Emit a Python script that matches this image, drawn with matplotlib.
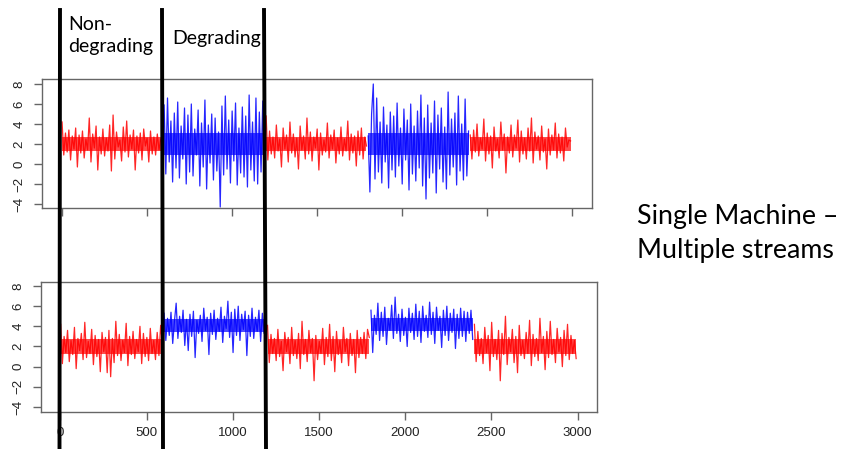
import numpy as np
import matplotlib
matplotlib.use("Agg")
import matplotlib.pyplot as plt
from matplotlib.lines import Line2D

# segment layout (sample index) and colours
seg_starts = [0, 600, 1200, 1800, 2400]
seg_len = 600
seg_colors = ["red", "blue", "red", "blue", "red"]

# top panel: degrading segments have larger spread
top_segments = [
    [4.2, 0.9, 3.1, 1.2, 3.4, 0.4, 2.8, 1.5, 3.6, -0.3, 2.9, 1.1, 3.3, 0.6, 2.5, 1.4, 4.6, 0.2, 3.0, 1.6,
     3.8, -0.6, 2.7, 1.0, 3.5, 0.8, 2.6, 1.3, 3.9, -0.7, 4.9, 0.5, 3.2, 1.7, 2.4, 0.3, 3.7, 1.2, 4.3, 0.7,
     2.9, 1.5, 3.4, -0.6, 2.8, 1.1, 3.1, 0.4, 3.5, 1.8, 2.6, 0.2, 3.3, 1.0, 2.7, 0.9, 3.0, 1.4, 2.5, 2.2],
    [5.9, -1.0, 6.6, 0.2, 4.3, -1.8, 5.1, -0.4, 6.2, -1.4, 3.8, 0.5, 5.6, -2.0, 4.9, -0.8, 6.0, -1.2, 3.5, 0.9,
     5.4, -2.2, 4.1, -0.3, 6.4, -2.5, 3.9, 0.1, 5.0, -1.6, 4.6, -0.7, 3.2, -4.3, 5.8, -1.1, 6.8, -0.5, 4.4, -1.9,
     5.3, 0.3, 6.1, -2.1, 3.6, -0.9, 5.7, -1.3, 4.8, -2.3, 6.9, -0.6, 4.2, -1.7, 6.6, -2.0, 5.2, -0.8, 6.3, -2.4],
    [4.8, 0.4, 3.3, 1.0, 2.7, 0.6, 3.9, 1.3, 2.5, -0.3, 3.6, 1.5, 2.9, 0.2, 4.2, 1.1, 3.0, 0.7, 2.6, -0.5,
     3.8, 1.4, 2.8, 0.5, 4.6, 1.0, 3.2, 0.3, 2.7, 1.6, 3.5, -0.6, 3.1, 0.9, 2.4, 1.2, 4.1, 0.6, 2.9, 1.5,
     3.4, 0.1, 2.6, 1.0, 3.7, 0.8, 2.5, 1.3, 4.3, 0.4, 3.0, 1.1, 2.8, -0.2, 3.3, 0.9, 3.6, 0.5, 2.7, 1.8],
    [2.8, -2.8, 5.0, 8.0, -1.5, 6.6, -0.8, 4.2, -1.9, 5.7, 0.2, 3.9, -2.4, 5.2, -0.6, 4.8, -1.3, 6.1, -0.2, 3.6,
     -2.0, 5.5, 0.4, 4.4, -2.6, 6.0, -1.0, 3.8, -1.7, 5.3, -0.4, 6.9, -2.2, 4.6, -3.5, 5.9, -1.4, 4.1, -0.9, 6.3,
     -2.9, 4.9, -0.5, 5.6, -1.8, 3.7, -2.5, 7.2, -1.1, 4.5, -0.3, 5.1, -2.1, 6.8, -0.7, 4.0, -1.6, 6.5, -1.2, 3.3],
    [2.9, 0.5, 3.4, 1.2, 4.0, 0.8, 2.6, 1.5, 4.5, 0.3, 3.1, 1.0, 2.8, -0.4, 3.7, 1.3, 2.5, 0.6, 4.2, 1.4,
     3.0, -0.9, 2.7, 1.1, 3.9, 0.7, 2.9, 1.6, 4.4, 0.2, 3.3, 1.0, 2.6, 0.5, 3.6, 1.3, 4.6, 0.1, 3.2, 1.5,
     2.8, 0.4, 3.8, 1.2, 2.5, -0.5, 3.5, 0.9, 2.9, 1.4, 4.1, 0.6, 3.0, 1.1, 2.7, 0.3, 3.6, 1.7, 2.4, 2.3],
]
# dense core of each top segment (low, high)
top_core = [(1.3, 2.7), (0.9, 3.1), (1.3, 2.7), (0.9, 3.1), (1.3, 2.7)]

# bottom panel: degrading segments have a shifted mean
bottom_segments = [
    [4.2, 0.3, 3.0, 1.4, 3.6, 0.5, 2.6, 1.2, 3.9, -0.2, 2.8, 1.6, 3.3, 0.7, 4.4, 0.9, 2.5, 1.3, 3.7, 0.2,
     3.1, 1.0, 2.7, -0.5, 3.4, 1.5, 2.9, -0.6, 3.6, -1.0, 2.8, 0.4, 4.5, 1.1, 3.2, 0.6, 2.6, 1.4, 4.3, 0.1,
     3.0, 1.2, 3.5, 0.8, 2.7, 1.5, 4.0, 0.3, 3.3, 1.0, 2.9, 0.6, 3.8, 1.3, 2.6, 0.7, 3.4, 1.1, 4.1, 2.4],
    [5.3, 2.6, 4.8, 3.1, 5.4, 2.3, 4.5, 6.3, 2.8, 5.0, 3.4, 5.6, 2.1, 4.7, 1.6, 5.2, 3.0, 5.5, 0.9, 4.6,
     3.3, 5.1, 2.5, 5.8, 3.6, 4.9, 1.2, 5.3, 3.2, 5.6, 2.7, 4.8, 3.5, 5.9, 2.4, 5.0, 3.8, 6.5, 2.9, 5.4,
     1.4, 5.7, 3.1, 6.0, 2.6, 5.2, 3.7, 5.5, 1.1, 5.1, 3.0, 5.8, 2.8, 4.9, 3.5, 5.6, 2.5, 5.3, 3.3, 4.6],
    [4.1, 0.4, 3.2, 1.3, 2.8, 0.6, 3.7, 1.0, 2.5, -0.4, 3.4, 1.5, 2.9, 0.3, 3.9, 1.1, 2.6, 0.8, 3.3, -0.2,
     4.5, 1.2, 2.7, 0.5, 3.6, 1.4, 2.8, -1.4, 3.1, 0.7, 2.5, 1.3, 3.8, 0.2, 2.9, 1.0, 4.2, 0.6, 3.0, -0.5,
     3.5, 1.2, 2.6, 0.4, 3.9, 1.5, 2.8, 0.1, 3.3, 1.1, 2.7, -0.6, 3.6, 0.9, 2.9, 1.3, 3.4, 0.8, 3.7, 2.9],
    [5.6, 1.4, 5.1, 3.2, 6.3, 2.6, 5.4, 3.0, 5.9, 2.2, 4.8, 3.6, 6.1, 2.8, 6.9, 3.3, 5.2, 2.5, 5.7, 3.1,
     4.9, 2.0, 5.8, 3.4, 5.3, 2.7, 6.2, 3.0, 5.5, 2.4, 6.0, 3.5, 5.1, 2.9, 6.4, 3.2, 5.4, 2.3, 5.9, 3.6,
     5.0, 1.9, 5.6, 3.1, 6.0, 2.6, 5.3, 3.4, 5.7, 1.8, 5.2, 2.8, 5.8, 3.0, 5.5, 2.5, 5.4, 3.3, 5.6, 2.7],
    [4.2, 0.5, 3.5, 1.1, 2.8, 0.3, 3.9, 1.4, 3.1, -0.4, 4.4, 1.0, 2.7, 0.7, 3.6, -1.4, 3.3, 1.2, 5.0, 0.2,
     2.9, 1.5, 3.7, 0.4, 3.0, -0.6, 4.1, 1.1, 2.6, 0.8, 3.4, 1.3, 4.6, 0.1, 3.2, 1.0, 2.8, 0.6, 4.8, 1.4,
     3.0, -0.3, 3.5, 0.9, 4.5, 1.2, 2.7, 0.4, 3.8, 1.5, 2.9, 0.0, 3.6, 1.1, 4.2, 0.7, 3.1, 1.3, 2.6, 0.8],
]
bottom_core = [(1.3, 2.7), (3.4, 4.7), (1.3, 2.7), (3.5, 4.8), (1.3, 2.7)]

x_ticks = [0, 500, 1000, 1500, 2000, 2500, 3000]
y_ticks = [-4, -2, 0, 2, 4, 6, 8]

W, H = 843, 449
fig = plt.figure(figsize=(W / 100, H / 100), dpi=100)


def px_box(left, top, right, bottom):
    return [left / W, 1 - bottom / H, (right - left) / W, (bottom - top) / H]


def draw_panel(ax, segments, cores, xlim, ylim, show_xlabels):
    for start, vals, core, col in zip(seg_starts, segments, cores, seg_colors):
        step = seg_len / len(vals)
        xs = start + 1 + step * np.arange(len(vals))
        ax.fill_between([xs[0], xs[-1]], core[0], core[1], color=col, lw=0, alpha=0.7)
        ax.plot(xs, vals, color=col, lw=0.9, alpha=0.85)
    ax.set_xlim(*xlim)
    ax.set_ylim(*ylim)
    ax.set_xticks(x_ticks)
    ax.set_yticks(y_ticks)
    for s in ax.spines.values():
        s.set_color("#666666")
        s.set_linewidth(1.0)
    ax.tick_params(direction="out", length=6, width=1.0, color="#666666",
                   labelsize=9.5, labelcolor="#222222")
    ax.tick_params(axis="y", pad=6)
    for lab in ax.get_yticklabels():
        lab.set_rotation(90)
        lab.set_va("center")
    if not show_xlabels:
        ax.set_xticklabels([])


ax1 = fig.add_axes(px_box(42, 79, 592, 208))
draw_panel(ax1, top_segments, top_core, (-117, 3117), (-4.4, 8.5), False)

ax2 = fig.add_axes(px_box(41, 282, 597, 412))
draw_panel(ax2, bottom_segments, bottom_core, (-113, 3112), (-4.5, 8.4), True)
ax2.tick_params(axis="x", pad=5)

for ax in (ax1, ax2):
    for lab in ax.get_xticklabels() + ax.get_yticklabels():
        lab.set_family("Liberation Sans")

# black separators drawn across the whole figure
for xt, xb in [(60, 59.5), (162, 163), (264, 266)]:
    fig.add_artist(Line2D([xt / W, xb / W], [1 - 10 / H, 0], color="black", lw=2.8,
                          transform=fig.transFigure))

font = "Lato"
fig.text(68 / W, 1 - 30 / H, "Non-", fontsize=14, family=font, va="baseline")
fig.text(68 / W, 1 - 52 / H, "degrading", fontsize=14, family=font, va="baseline")
fig.text(172 / W, 1 - 44 / H, "Degrading", fontsize=14, family=font, va="baseline")
fig.text(637 / W, 1 - 224 / H, "Single Machine \u2013", fontsize=19.3, family=font, va="baseline")
fig.text(637 / W, 1 - 258 / H, "Multiple streams", fontsize=19.3, family=font, va="baseline")

fig.savefig("out.png", dpi=100)
